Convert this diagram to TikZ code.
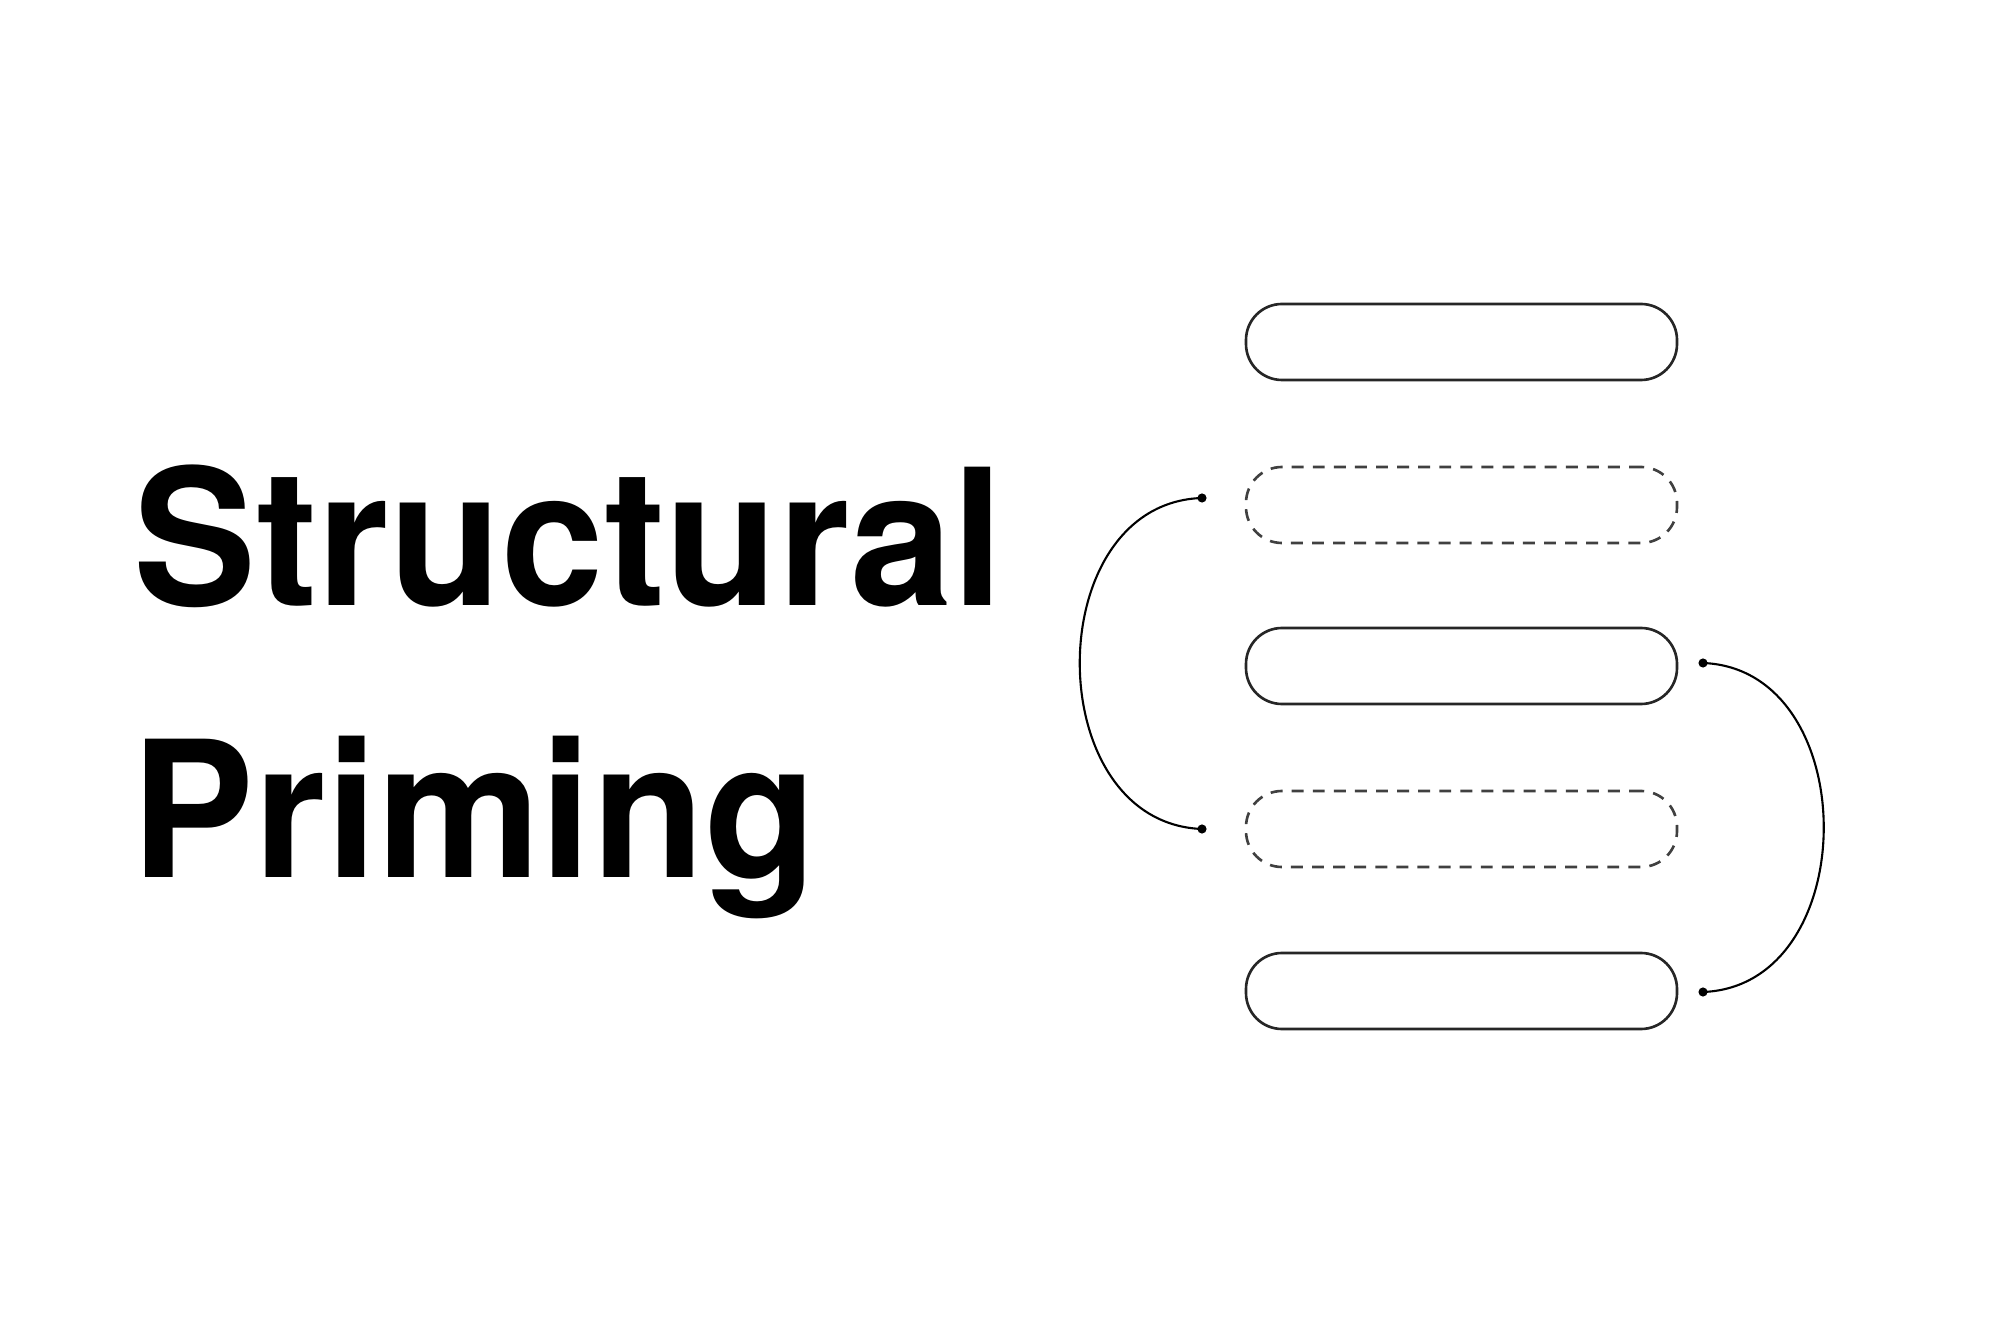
\documentclass[tikz,border=0pt]{standalone}
\usepackage{fontspec}
\setmainfont{TeX Gyre Heros}
\newfontfamily\titlefont[FakeStretch=0.97]{TeX Gyre Heros Bold}
\begin{document}
\begin{tikzpicture}[
  bar/.style={draw=black!85, line width=0.75pt, rounded corners=0.36cm,
    minimum width=4.31cm, minimum height=0.76cm, inner sep=0pt},
  dbar/.style={bar, draw=black!75, dash pattern=on 3.4pt off 2.6pt},
  dot/.style={circle, fill=black, inner sep=0pt, minimum size=2.6pt},
  link/.style={draw=black, line width=0.6pt},
  title/.style={anchor=base west, inner sep=0pt, font=\titlefont\fontsize{54}{60}\selectfont}
]
\useasboundingbox[fill=white] (0,0) rectangle (20,13.33);

\node[title] (t1) at (1.33,7.27) {Structural};
\node[title] (t2) at (1.31,4.56) {Priming};

\node[bar]  (b1) at (14.615,9.91) {};
\node[dbar] (b2) at (14.615,8.28) {};
\node[bar]  (b3) at (14.615,6.67) {};
\node[dbar] (b4) at (14.615,5.04) {};
\node[bar]  (b5) at (14.615,3.42) {};

\node[dot] (l1) at (12.02,8.35) {};
\node[dot] (l2) at (12.02,5.04) {};
\node[dot] (r1) at (17.03,6.70) {};
\node[dot] (r2) at (17.03,3.41) {};

\draw[link] (l1.center) .. controls (10.39,8.30) and (10.39,5.10) .. (l2.center);
\draw[link] (r1.center) .. controls (18.64,6.64) and (18.64,3.47) .. (r2.center);
\end{tikzpicture}
\end{document}
